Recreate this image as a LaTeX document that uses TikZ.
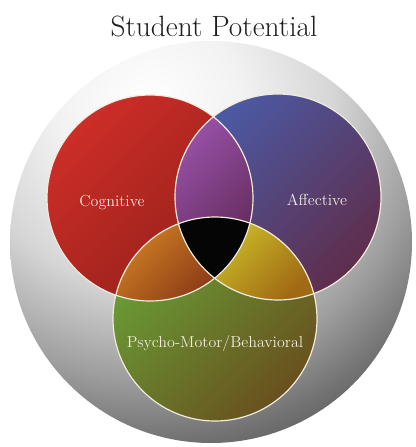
\documentclass[tikz,border=0pt]{standalone}
\usepackage{xcolor}

\definecolor{redA}{RGB}{205,45,40}
\definecolor{redB}{RGB}{145,32,25}
\definecolor{blueA}{RGB}{75,90,165}
\definecolor{blueB}{RGB}{95,45,75}
\definecolor{greenA}{RGB}{105,160,55}
\definecolor{greenB}{RGB}{105,80,30}
\definecolor{purpleA}{RGB}{150,80,165}
\definecolor{purpleB}{RGB}{95,40,85}
\definecolor{orangeA}{RGB}{210,130,35}
\definecolor{orangeB}{RGB}{125,45,20}
\definecolor{yellowA}{RGB}{215,210,45}
\definecolor{yellowB}{RGB}{160,105,20}
\definecolor{cream}{RGB}{240,235,220}
\definecolor{titlegray}{RGB}{30,30,30}

\pgfdeclareradialshading{spherelight}{\pgfpointorigin}{color(0bp)=(white); color(6bp)=(black!5); color(12bp)=(black!16); color(18bp)=(black!38); color(22bp)=(black!55); color(25bp)=(black!65); color(50bp)=(black!65)}

\tikzset{
  rim/.style={draw=cream, line width=0.9},
  circlabel/.style={anchor=base, inner sep=0.75pt, text=cream, font=\fontsize{12}{14}\selectfont}
}

\begin{document}
\begin{tikzpicture}[x=0.75pt,y=0.75pt,yscale=-1,xscale=1]
\useasboundingbox (0,0) rectangle (416,447);

%Shape: Sphere
\begin{scope}
\clip (211,242) circle (201);
\shade [shading=spherelight] (150,105) circle (380);
\end{scope}

%Shape: Circle [Cognitive]
\shade [left color=redA, right color=redB, shading angle=45] (150,198) circle (103);
%Shape: Circle [Affective]
\shade [left color=blueA, right color=blueB, shading angle=45] (278,197) circle (103);
%Shape: Circle [Psycho-Motor]
\shade [left color=greenA, right color=greenB, shading angle=45] (215,319) circle (102);

%Cognitive and Affective
\begin{scope}
\clip (150,198) circle (103);
\clip (278,197) circle (103);
\shade [left color=purpleA, right color=purpleB, shading angle=45] (175,117) rectangle (253,278);
\end{scope}
%Cognitive and Psycho-Motor
\begin{scope}
\clip (150,198) circle (103);
\clip (215,319) circle (102);
\shade [left color=orangeA, right color=orangeB, shading angle=45] (112,217) rectangle (253,301);
\end{scope}
%Affective and Psycho-Motor
\begin{scope}
\clip (278,197) circle (103);
\clip (215,319) circle (102);
\shade [left color=yellowA, right color=yellowB, shading angle=45] (175,217) rectangle (318,300);
\end{scope}
%All three
\begin{scope}
\clip (150,198) circle (103);
\clip (278,197) circle (103);
\fill [black!98] (215,319) circle (102);
\end{scope}

%Outlines
\draw [rim] (150,198) circle (103);
\draw [rim] (278,197) circle (103);
\draw [rim] (215,319) circle (102);

% Text Node
\draw (214,36) node (title) [anchor=base, inner sep=0.75pt, text=titlegray, font=\fontsize{22}{26}\selectfont] {Student Potential};
% Text Node
\draw (112,206) node (cognitive) [circlabel] {Cognitive};
% Text Node
\draw (317,205) node (affective) [circlabel] {Affective};
% Text Node
\draw (215,347) node (psycho) [circlabel] {Psycho-Motor/Behavioral};
\end{tikzpicture}
\end{document}
